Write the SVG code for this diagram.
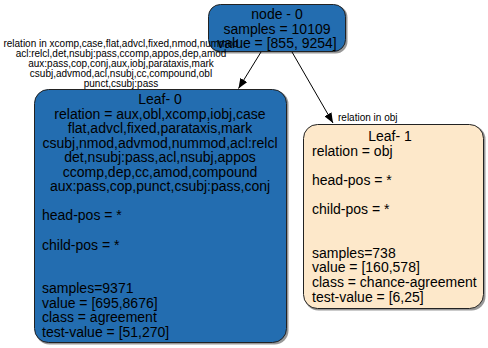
<svg xmlns="http://www.w3.org/2000/svg" width="488" height="348" viewBox="0 0 488 348">
  <defs>
    <marker id="arrow" viewBox="0 0 10 8" refX="10" refY="4" markerWidth="10" markerHeight="8" markerUnits="userSpaceOnUse" orient="auto">
      <path d="M0,0 L10,4 L0,8 Z" fill="#000"/>
    </marker>
  </defs>
  <style>
    text { font-family: "Liberation Sans", Arial, Helvetica, sans-serif; fill: #000; }
    .big { font-size: 14px; }
    .small { font-size: 10px; }
    .mid { text-anchor: middle; }
    .shadow { fill: #444; opacity: 0.55; }
    .blue { fill: #236db0; stroke: #222; stroke-width: 1; }
    .peach { fill: #fde8ca; stroke: #222; stroke-width: 1; }
    .edge { stroke: #000; stroke-width: 1; fill: none; marker-end: url(#arrow); }
  </style>

  <rect width="488" height="348" fill="#fff"/>

  <!-- root split node -->
  <g id="node0">
    <rect class="shadow" x="209.5" y="5.5" width="138" height="48" rx="12"/>
    <rect class="blue" x="208.5" y="4.5" width="137" height="47" rx="12"/>
    <text class="big mid" x="277" y="19">node - 0</text>
    <text class="big mid" x="277" y="33.5">samples = 10109</text>
    <text class="big mid" x="277" y="48">value = [855, 9254]</text>
  </g>

  <!-- left leaf -->
  <g id="leaf0">
    <rect class="shadow" x="35.5" y="90.5" width="253" height="254" rx="14"/>
    <rect class="blue" x="34.5" y="89.5" width="252" height="253" rx="14"/>
    <g class="big">
      <text class="mid" x="160" y="104">Leaf- 0</text>
      <text class="mid" x="160" y="118.6">relation = aux,obl,xcomp,iobj,case</text>
      <text class="mid" x="160" y="133.1">flat,advcl,fixed,parataxis,mark</text>
      <text class="mid" x="160" y="147.7">csubj,nmod,advmod,nummod,acl:relcl</text>
      <text class="mid" x="160" y="162.2">det,nsubj:pass,acl,nsubj,appos</text>
      <text class="mid" x="160" y="176.8">ccomp,dep,cc,amod,compound</text>
      <text class="mid" x="160" y="191.3">aux:pass,cop,punct,csubj:pass,conj</text>
      <text x="42" y="220.4">head-pos = *</text>
      <text x="42" y="249.5">child-pos = *</text>
      <text x="42" y="293.2">samples=9371</text>
      <text x="42" y="307.8">value = [695,8676]</text>
      <text x="42" y="322.3">class = agreement</text>
      <text x="42" y="336.9">test-value = [51,270]</text>
    </g>
  </g>

  <!-- right leaf -->
  <g id="leaf1">
    <rect class="shadow" x="304.5" y="125.5" width="181" height="185" rx="14"/>
    <rect class="peach" x="303.5" y="124.5" width="180" height="184" rx="14"/>
    <g class="big">
      <text class="mid" x="390" y="141">Leaf- 1</text>
      <text x="312" y="155.6">relation = obj</text>
      <text x="312" y="184.8">head-pos = *</text>
      <text x="312" y="214">child-pos = *</text>
      <text x="312" y="257.8">samples=738</text>
      <text x="312" y="272.4">value = [160,578]</text>
      <text x="312" y="287">class = chance-agreement</text>
      <text x="312" y="301.6">test-value = [6,25]</text>
    </g>
  </g>

  <!-- connectors with their labels -->
  <g id="edges">
    <path class="edge" d="M261,52 L238.5,88.5"/>
    <path class="edge" d="M292,52 L333,123"/>
    <g class="small">
      <text class="mid" x="121" y="47">relation in xcomp,case,flat,advcl,fixed,nmod,nummod</text>
      <text class="mid" x="121" y="57">acl:relcl,det,nsubj:pass,ccomp,appos,dep,amod</text>
      <text class="mid" x="121" y="67">aux:pass,cop,conj,aux,iobj,parataxis,mark</text>
      <text class="mid" x="121" y="77">csubj,advmod,acl,nsubj,cc,compound,obl</text>
      <text class="mid" x="121" y="87">punct,csubj:pass</text>
      <text x="338" y="121">relation in obj</text>
    </g>
  </g>
</svg>
